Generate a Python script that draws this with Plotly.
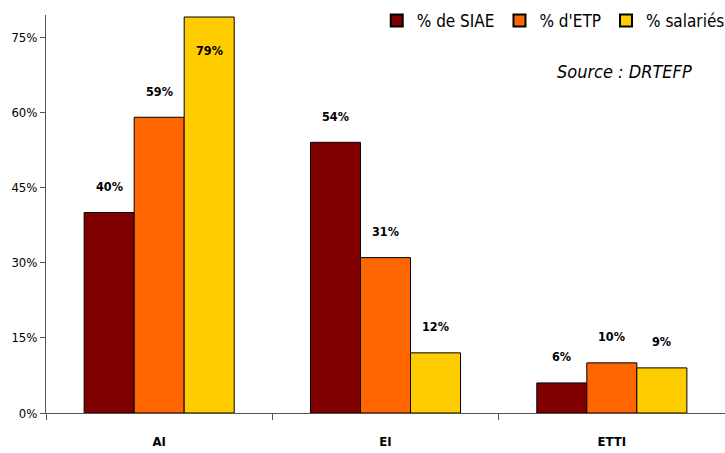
import plotly.graph_objects as go

# Structures de l'insertion par l'activité économique
categories = ["AI", "EI", "ETTI"]
series_names = ["% de SIAE", "% d'ETP", "% salariés"]
pct_siae = [40, 54, 6]
pct_etp = [59, 31, 10]
pct_salaries = [79, 12, 9]
colors = ["#800000", "#FF6600", "#FFCC00"]
y_ticks = [0, 15, 30, 45, 60, 75]
y_tick_labels = ["0%", "15%", "30%", "45%", "60%", "75%"]

FONT = "DejaVu Sans Condensed, DejaVu Sans, sans-serif"
Y_MAX = 79.4
BARGAP = 0.337

series = [pct_siae, pct_etp, pct_salaries]

fig = go.Figure()
for name, vals, col in zip(series_names, series, colors):
    fig.add_trace(go.Bar(
        x=categories, y=vals, name=name,
        marker=dict(color=col, line=dict(color="#000000", width=1)),
        hoverinfo="skip",
    ))

# value labels above each bar (inside the bar when there is no room above)
L, R, W = 46, 0, 725
cat_px = (W - L - R) / len(categories)
bar_px = cat_px * (1 - BARGAP) / len(series)
for i, vals in enumerate(series):
    for cat, v in zip(categories, vals):
        room = (Y_MAX - v) * (398 / Y_MAX)
        fig.add_annotation(
            x=cat, y=v, text=f"<b>{v}%</b>", showarrow=False,
            xshift=(i - 1) * bar_px,
            yshift=26 if room > 34 else -33,
            yanchor="middle",
            font=dict(family=FONT, size=12.5, color="#000000"),
        )

fig.add_annotation(
    xref="paper", yref="paper", x=0.955, y=0.858,
    text="<i>Source : DRTEFP</i>", showarrow=False,
    xanchor="right", yanchor="middle",
    font=dict(family=FONT, size=18, color="#000000"),
)

fig.update_layout(
    width=725, height=453,
    margin=dict(l=L, r=R, t=15, b=40, autoexpand=False),
    paper_bgcolor="white", plot_bgcolor="white",
    barmode="group", bargap=BARGAP, bargroupgap=0,
    font=dict(family=FONT, size=12, color="#000000"),
    legend=dict(
        orientation="h", x=1.007, y=0.985, xanchor="right", yanchor="middle",
        font=dict(family=FONT, size=17, color="#000000"),
        bgcolor="rgba(0,0,0,0)", itemsizing="constant", traceorder="normal",
        tracegroupgap=0, itemwidth=30,
    ),
    showlegend=True,
)
fig.update_xaxes(
    type="category", range=[-0.5, 2.5],
    showline=True, linecolor="#555555", linewidth=1,
    ticks="outside", tickson="boundaries", ticklen=6, tickcolor="#555555",
    tickfont=dict(family=FONT, size=13, color="#000000"),
    tickprefix="<b>", ticksuffix="</b>", ticklabelstandoff=16,
    showgrid=False, zeroline=False, fixedrange=True,
)
fig.update_yaxes(
    range=[0, Y_MAX], tickvals=y_ticks, ticktext=y_tick_labels,
    showline=True, linecolor="#555555", linewidth=1,
    ticks="outside", ticklen=5, tickcolor="#555555",
    tickfont=dict(family=FONT, size=13, color="#000000"),
    showgrid=False, zeroline=False, fixedrange=True,
)

fig.write_html("out.html")
